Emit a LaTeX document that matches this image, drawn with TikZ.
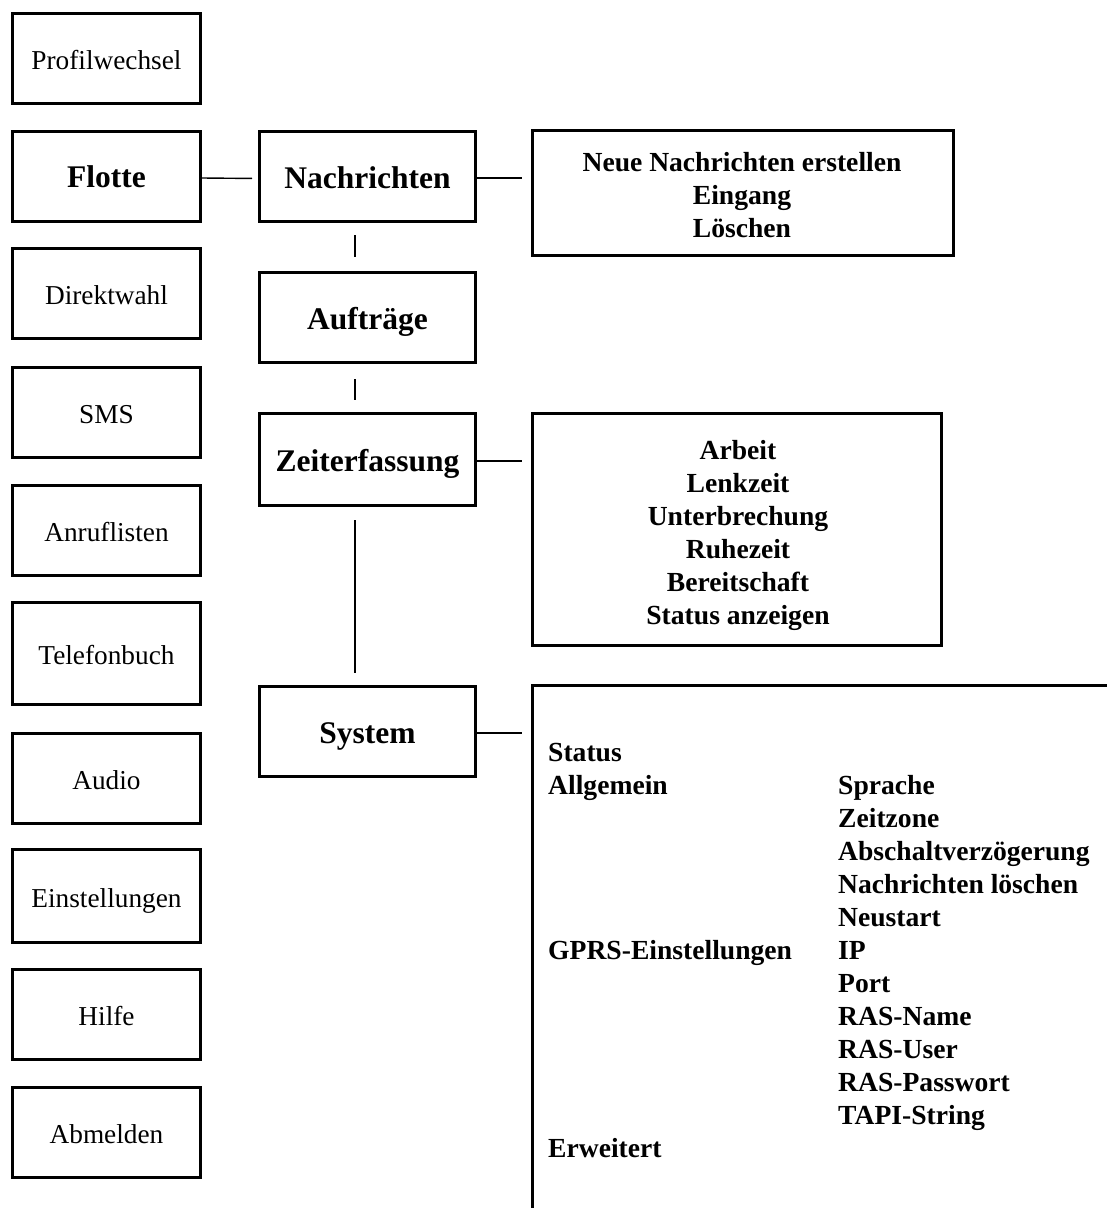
\documentclass[tikz,border=0pt]{standalone}
\usepackage{fontspec}
\setmainfont{Liberation Serif}
\begin{document}
\begin{tikzpicture}[x=1pt,y=-1pt,
  leftbox/.style={draw, line width=3pt, minimum width=188pt, minimum height=90pt, inner sep=0pt,
    text height=28pt, text depth=6pt, font=\fontsize{27.3}{32}\selectfont},
  boldlabel/.style={text height=30pt, text depth=7pt, font=\bfseries\fontsize{31.5}{36}\selectfont},
  midbox/.style={draw, line width=3pt, minimum width=216pt, minimum height=90pt, inner sep=0pt, boldlabel},
  detbox/.style={draw, line width=3pt, inner sep=0pt},
  dettextc/.style={inner sep=0pt, align=center, font=\bfseries\fontsize{27.6}{33}\selectfont},
  dettext/.style={anchor=base west, inner sep=0pt, font=\bfseries\fontsize{27.6}{33}\selectfont},
  conn/.style={line width=1.4pt}]
\useasboundingbox (0,0) rectangle (1107,1208);
\clip (0,0) rectangle (1107,1208);
\fill[white] (0,0) rectangle (1107,1208);

% left column
\node[leftbox] (prof) at (106.5,58) {Profilwechsel};
\node[leftbox, boldlabel] (flotte) at (106.5,176) {Flotte};
\node[leftbox] (direkt) at (106.5,293.5) {Direktwahl};
\node[leftbox] (sms) at (106.5,412) {SMS};
\node[leftbox] (anruf) at (106.5,530.5) {Anruflisten};
\node[leftbox, minimum height=102pt] (tel) at (106.5,653.5) {Telefonbuch};
\node[leftbox] (audio) at (106.5,778.5) {Audio};
\node[leftbox, minimum height=93pt] (einst) at (106.5,896) {Einstellungen};
\node[leftbox] (hilfe) at (106.5,1014) {Hilfe};
\node[leftbox] (abm) at (106.5,1132.5) {Abmelden};

% middle column
\node[midbox] (nach) at (367.5,176.5) {Nachrichten};
\node[midbox] (auf) at (367.5,317.5) {Aufträge};
\node[midbox, minimum height=92pt] (zeit) at (367.5,459.5) {Zeiterfassung};
\node[midbox] (sys) at (367.5,731.5) {System};

% detail boxes
\node[detbox, minimum width=421pt, minimum height=125pt] (nd) at (743,193) {};
\node[dettextc] (ndt) at (742,195.5) {Neue Nachrichten erstellen\\Eingang\\Löschen};
\node[detbox, minimum width=409pt, minimum height=232pt] (zd) at (737,529.5) {};
\node[dettextc] (zdt) at (738,535.5) {Arbeit\\Lenkzeit\\Unterbrechung\\Ruhezeit\\Bereitschaft\\Status anzeigen};
\node[draw, line width=3pt, anchor=north west, minimum width=620pt, minimum height=580pt, inner sep=0pt] (sd) at (531,684) {};

% system detail text
\node[dettext] (s1) at (548,761) {Status};
\node[dettext] (s2) at (548,794) {Allgemein};
\node[dettext] (s3) at (548,959) {GPRS-Einstellungen};
\node[dettext] (s4) at (548,1157) {Erweitert};
\node[dettext] (a1) at (838,794) {Sprache};
\node[dettext] (a2) at (838,827) {Zeitzone};
\node[dettext] (a3) at (838,860) {Abschaltverzögerung};
\node[dettext] (a4) at (838,893) {Nachrichten löschen};
\node[dettext] (a5) at (838,926) {Neustart};
\node[dettext] (g1) at (838,959) {IP};
\node[dettext] (g2) at (838,992) {Port};
\node[dettext] (g3) at (838,1025) {RAS-Name};
\node[dettext] (g4) at (838,1058) {RAS-User};
\node[dettext] (g5) at (838,1091) {RAS-Passwort};
\node[dettext] (g6) at (838,1124) {TAPI-String};

% connectors
\coordinate (vx) at (355,0);
\draw[conn, shorten >=6pt] ([yshift=-2pt]flotte.east) -- ([yshift=-2pt]nach.west);
\draw[conn, shorten >=9pt] ([yshift=-1.5pt]nach.east) -- ([yshift=-1.5pt]nach.east -| nd.west);
\draw[conn, shorten <=12pt, shorten >=14pt] (nach.south -| vx) -- (auf.north -| vx);
\draw[conn, shorten <=15pt, shorten >=12pt] (auf.south -| vx) -- (zeit.north -| vx);
\draw[conn, shorten <=13pt, shorten >=12pt] (zeit.south -| vx) -- (sys.north -| vx);
\draw[conn, shorten >=9pt] ([yshift=-1.5pt]zeit.east) -- ([yshift=-1.5pt]zeit.east -| zd.west);
\draw[conn, shorten >=9pt] ([yshift=-1.5pt]sys.east) -- ([yshift=-1.5pt]sys.east -| sd.west);
\end{tikzpicture}
\end{document}
